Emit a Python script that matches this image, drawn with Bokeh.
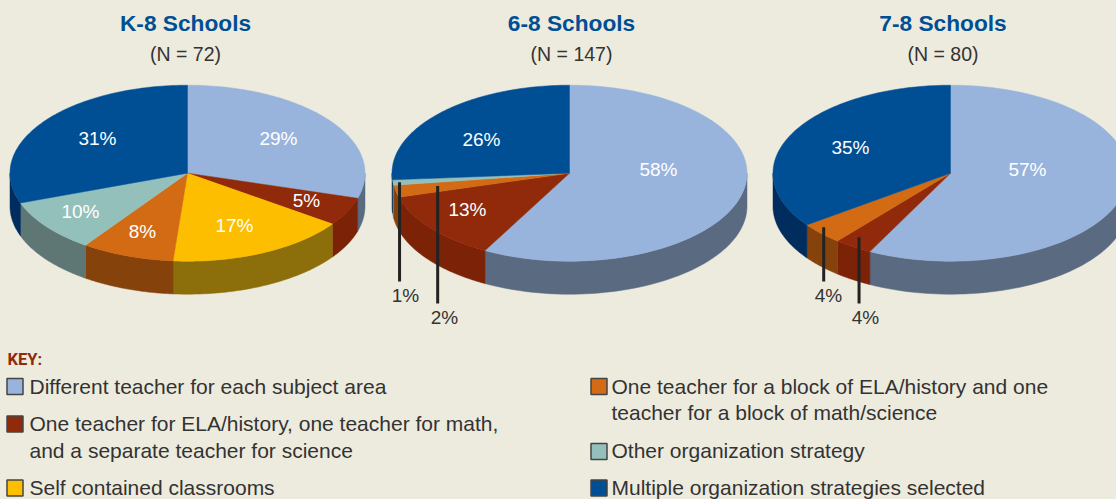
import numpy as np
from bokeh.plotting import figure
from bokeh.models import Range1d
from bokeh.core.properties import value
from bokeh.embed import file_html
from bokeh.resources import INLINE

# ---- data ----
categories = ["Different teacher for each subject area",
              "One teacher for ELA/history, one teacher for math, and a separate teacher for science",
              "Self contained classrooms",
              "One teacher for a block of ELA/history and one teacher for a block of math/science",
              "Other organization strategy",
              "Multiple organization strategies selected"]
# printed percentages
k8_labels = [29, 5, 17, 8, 10, 31]
s68_labels = [58, 13, 0, 2, 1, 26]
s78_labels = [57, 4, 0, 4, 0, 35]
# slice sizes
k8_shares = [29.6, 5.2, 16.5, 8.45, 9.75, 30.5]
s68_shares = [57.9, 12.7, 0, 2.2, 1.0, 26.2]
s78_shares = [57.5, 3.5, 0, 4.0, 0, 35.0]
titles = ["K-8 Schools", "6-8 Schools", "7-8 Schools"]
subtitles = ["(N = 72)", "(N = 147)", "(N = 80)"]

# ---- style and layout ----
BG = "#edebdd"
TOP = ["#98b4dc", "#902a0a", "#fdbe00", "#d26b14", "#94c0bc", "#004f95"]
WALL = ["#5a6a80", "#7c2206", "#8c6e0a", "#85420a", "#5e7775", "#002c5e"]
FONT = "Liberation Sans"
CX = [187, 569, 950]
CY, RX, RY, DEPTH = 172.7, 177.5, 88, 33
TITLE_X = [185, 571, 942.5]
INNER = {0: [(278, 138), (306, 200), (234, 225), (142, 231), (80, 211), (97, 138)],
         1: [(658, 169), (467, 209), None, None, None, (481, 139)],
         2: [(1027, 169), None, None, None, None, (850, 147)]}
# outside labels: pie, position round the pie (share of a turn), radius share, line end y, label x, label y, text index
LEADERS = [(1, 73.3, 0.963, 281, 405, 295, (1, 4)), (1, 71.9, 0.757, 303, 444, 317, (1, 3)),
           (2, 63.7, 0.942, 281, 828, 295, (2, 3)), (2, 59.8, 0.892, 303, 865, 317, (2, 1))]

p = figure(width=1116, height=499, x_range=Range1d(0, 1116), y_range=Range1d(499, 0),
           output_backend="svg", toolbar_location=None, min_border=0,
           background_fill_color=BG, border_fill_color=BG, outline_line_color=None)
p.xaxis.visible = False
p.yaxis.visible = False
p.grid.visible = False


def pt(cx, deg, r=1.0):
    t = np.radians(deg)
    return cx + RX * r * np.sin(t), CY - RY * r * np.cos(t)


all_labels = [k8_labels, s68_labels, s78_labels]
all_shares = [k8_shares, s68_shares, s78_shares]
for i, vals in enumerate(all_shares):
    cum = np.cumsum([0] + vals) / sum(vals) * 360
    for j, v in enumerate(vals):
        if v == 0:
            continue
        a, b = cum[j], cum[j + 1]
        wa, wb = max(a, 90), min(b, 270)
        if wa < wb:
            th = np.linspace(wa, wb, 60)
            x, y = pt(CX[i], th)
            p.patch(np.r_[x, x[::-1]], np.r_[y, y[::-1] + DEPTH],
                    fill_color=WALL[j], line_color=WALL[j], line_width=0.5)
    for j, v in enumerate(vals):
        if v == 0:
            continue
        th = np.linspace(cum[j], cum[j + 1], 90)
        x, y = pt(CX[i], th)
        p.patch(np.r_[CX[i], x], np.r_[CY, y], fill_color=TOP[j], line_color=TOP[j], line_width=0.5)
        if INNER[i][j] is not None:
            lx, ly = INNER[i][j]
            p.text([lx], [ly], text=[f"{all_labels[i][j]}%"], text_color="#ffffff", text_font=value(FONT),
                   text_font_size="19px", text_align="center", text_baseline="middle")

for pie, share, r, yend, lx, ly, (vi, vj) in LEADERS:
    x0, y0 = pt(CX[pie], share * 3.6, r)
    p.line([x0, x0], [y0, yend], line_color="#222222", line_width=3)
    p.text([lx], [ly], text=[f"{all_labels[vi][vj]}%"], text_color="#333333", text_font=value(FONT),
           text_font_size="19px", text_align="center", text_baseline="middle")

p.text(TITLE_X, [22] * 3, text=titles, text_color="#004f95", text_font=value(FONT), text_font_style="bold",
       text_font_size="22.7px", text_align="center", text_baseline="middle")
p.text(TITLE_X, [53] * 3, text=subtitles, text_color="#333333", text_font=value(FONT),
       text_font_size="19.5px", text_align="center", text_baseline="middle")

# ---- key ----
p.text([7], [359], text=["KEY:"], text_color="#902a0a", text_font=value("Roboto"),
       text_font_style="bold", text_font_size="16.5px", text_align="left", text_baseline="middle")
SW_X = [14.5, 14.5, 14.5, 598.5, 598.5, 598.5]
SW_Y = [386, 423.5, 487.5, 386, 451, 487.5]
p.rect(SW_X, SW_Y, width=16, height=16, fill_color=TOP, line_color="#444444", line_width=1.5)
key_lines = ["Different teacher for each subject area",
             "One teacher for ELA/history, one teacher for math,",
             "and a separate teacher for science",
             "Self contained classrooms",
             "One teacher for a block of ELA/history and one",
             "teacher for a block of math/science",
             "Other organization strategy",
             "Multiple organization strategies selected"]
key_x = [29, 29, 29, 29, 611, 611, 611, 611]
key_y = [386, 423, 450, 487, 386, 412, 450, 487]
p.text(key_x, key_y, text=key_lines, text_color="#333333", text_font=value(FONT),
       text_font_size="21px", text_align="left", text_baseline="middle")

TEMPLATE = """{% block preamble %}<style>html,body{margin:0;padding:0;background:#edebdd;overflow:hidden}</style>{% endblock %}"""
open("out.html", "w").write(file_html(p, INLINE, template=TEMPLATE))
